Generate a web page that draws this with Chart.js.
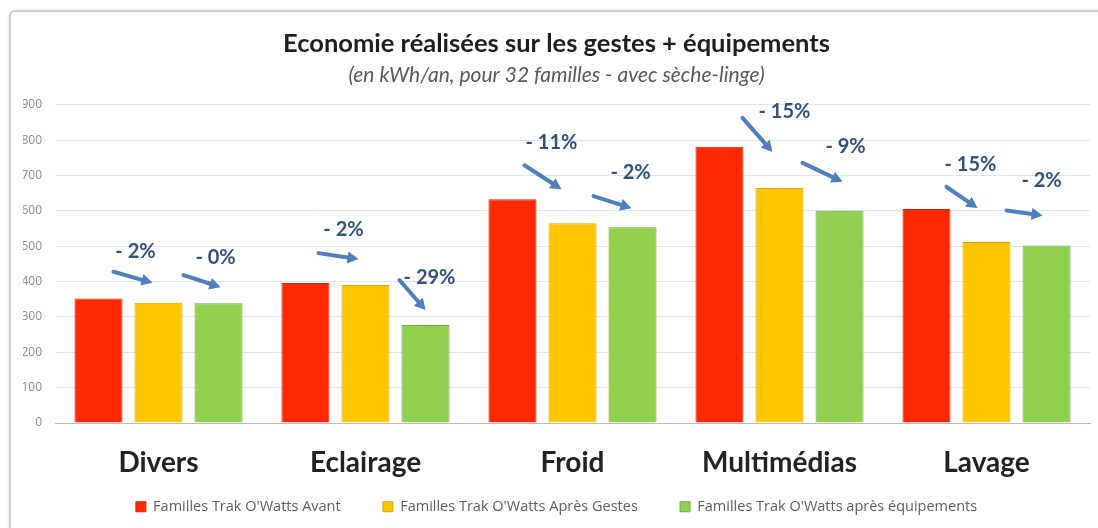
<!DOCTYPE html>
<html>
<head>
<meta charset="utf-8">
<script src="https://cdn.jsdelivr.net/npm/chart.js@4.4.1/dist/chart.umd.min.js"></script>
<style>
  html, body { margin: 0; padding: 0; background: #fff; }
  #wrap { position: relative; width: 1098px; height: 528px; overflow: hidden; }
  #frame { position: absolute; left: 9px; top: 10px; width: 1200px; height: 700px;
           border: 2px solid #d0d0d0; border-radius: 6px; box-shadow: 1px 1px 4px rgba(0,0,0,0.15); background: #fff; }
  #graf { position: absolute; left: 0; top: 0; }
</style>
</head>
<body>
<div id="wrap">
  <div id="frame"></div>
  <canvas id="graf" width="1098" height="528"></canvas>
</div>
<script>
// données
const categories = ['Divers', 'Eclairage', 'Froid', 'Multimédias', 'Lavage'];
const avant = [352, 396, 633, 781, 605];
const apresGestes = [340, 390, 565, 665, 512];
const apresEquip = [339, 277, 554, 600, 502];
const pctGestes = ['- 2%', '- 2%', '- 11%', '- 15%', '- 15%'];
const pctEquip = ['- 0%', '- 29%', '- 2%', '- 9%', '- 2%'];
const seriesNames = ["Familles Trak O'Watts Avant", "Familles Trak O'Watts Après Gestes", "Familles Trak O'Watts après équipements"];

// flèches : [finX, finY, queueX, queueY, texteX, texteY] par rapport au haut de la barre visée
const flechesGestes = [[-6,-20,-39,-11,-23,-51], [-7,-26,-40,-6,-22,-56], [-11,-34,-37,-24,-21,-81], [-7,-36,-30,-34,5,-76], [-9,-34,-31,-21,-16,-77]];
const flechesEquip = [[2,-16,-37,-12,-3,-46], [0,-15,-26,-30,4,-48], [-1,-19,-38,-12,-2,-55], [3,-29,-40,-19,6,-64], [-4,-30,-36,-5,-5,-65]];

const FONT = 'Lato, "Open Sans", sans-serif';
const FONT2 = '"Open Sans", sans-serif';

function fleche(ctx, x1, y1, x2, y2) {
    const a = Math.atan2(y2 - y1, x2 - x1);
    const L = 11, W = 6;
    const bx = x2 - L * Math.cos(a), by = y2 - L * Math.sin(a);
    ctx.beginPath();
    ctx.moveTo(x1, y1); ctx.lineTo(bx, by);
    ctx.stroke();
    ctx.beginPath();
    ctx.moveTo(x2, y2);
    ctx.lineTo(bx + W * Math.sin(a), by - W * Math.cos(a));
    ctx.lineTo(bx - W * Math.sin(a), by + W * Math.cos(a));
    ctx.closePath();
    ctx.fill();
}

const annotations = {
    id: 'annotations',
    afterDatasetsDraw(chart) {
        const ctx = chart.ctx;
        ctx.save();
        ctx.lineWidth = 4;
        ctx.lineCap = 'round';
        const groups = [[1, pctGestes, flechesGestes], [2, pctEquip, flechesEquip]];
        groups.forEach(([ds, labels, fl]) => {
            const meta = chart.getDatasetMeta(ds);
            meta.data.forEach((bar, i) => {
                const f = fl[i];
                const ex = bar.x + f[0], ey = bar.y + f[1];
                ctx.strokeStyle = '#4f7fbd'; ctx.fillStyle = '#4f7fbd';
                fleche(ctx, ex + f[2], ey + f[3], ex, ey);
                ctx.fillStyle = '#33507f';
                ctx.font = 'bold 20px ' + FONT;
                ctx.textAlign = 'center';
                ctx.textBaseline = 'middle';
                ctx.fillText(labels[i], bar.x + f[4], bar.y + f[5]);
            });
        });
        ctx.restore();
    }
};

new Chart(document.getElementById('graf'), {
    type: 'bar',
    data: {
        labels: categories,
        datasets: [
            { label: seriesNames[0], data: avant, backgroundColor: '#ff2a00', borderColor: '#d92200', borderWidth: 1 },
            { label: seriesNames[1], data: apresGestes, backgroundColor: '#ffc600', borderColor: '#e2a200', borderWidth: 1 },
            { label: seriesNames[2], data: apresEquip, backgroundColor: '#92d050', borderColor: '#6eac3c', borderWidth: 1 }
        ]
    },
    options: {
        responsive: false,
        animation: false,
        categoryPercentage: 0.87,
        barPercentage: 0.8,
        layout: { padding: { left: 23, right: 8, top: 0, bottom: 4 } },
        plugins: {
            title: {
                display: true,
                text: 'Economie réalisées sur les gestes + équipements',
                color: '#1e1e1e',
                font: { family: FONT, size: 25.5, weight: 'bold' },
                padding: { top: 28, bottom: 2 }
            },
            subtitle: {
                display: true,
                text: '(en kWh/an, pour 32 familles - avec sèche-linge)',
                color: '#5a5a5a',
                font: { family: FONT, size: 21, style: 'italic' },
                padding: { top: 2, bottom: 17 }
            },
            legend: {
                position: 'bottom',
                labels: {
                    color: '#606060',
                    font: { family: FONT2, size: 14.5 },
                    boxWidth: 10, boxHeight: 10,
                    padding: 20.5,
                    generateLabels(chart) {
                        const items = Chart.defaults.plugins.legend.labels.generateLabels(chart);
                        items.forEach((it, i) => { if (i < items.length - 1) it.text += '\u2002\u2002\u2002'; });
                        return items;
                    }
                }
            },
            tooltip: { enabled: false }
        },
        scales: {
            x: {
                grid: { display: false, drawTicks: false },
                border: { color: '#b5bccb', width: 1 },
                ticks: { color: '#222', font: { family: FONT, size: 28, weight: 'bold' }, padding: 23 },
                afterFit: s => { s.height = 56; }
            },
            y: {
                min: 0, max: 900,
                ticks: { stepSize: 100, color: '#8c8c8c', font: { family: FONT2, size: 12 }, padding: 13 },
                grid: { color: '#e1e4ec', drawTicks: false },
                border: { display: false },
                afterFit: s => { s.width = 32; }
            }
        }
    },
    plugins: [annotations]
});
</script>
</body>
</html>
